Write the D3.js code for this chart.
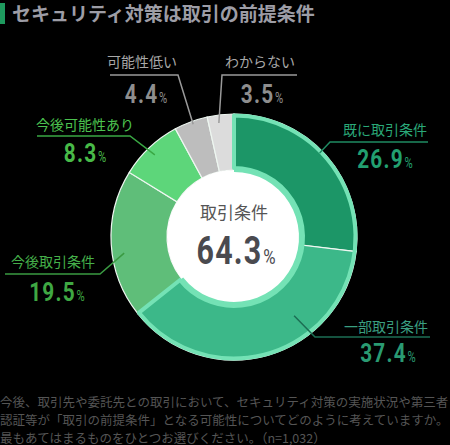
<!DOCTYPE html>
<html>
<head>
<meta charset="utf-8">
<script src="https://cdn.jsdelivr.net/npm/d3@7"></script>
<style>
  html, body { margin: 0; padding: 0; background: #000; }
  svg { display: block; }
</style>
</head>
<body>
<div id="chart"></div>
<script>
// data
const categories = ["既に取引条件", "一部取引条件", "今後取引条件", "今後可能性あり", "可能性低い", "わからない"]
const values = [26.9, 37.4, 19.5, 8.3, 4.4, 3.5]
const highlightGroup = ["既に取引条件", "一部取引条件"]
const centerTitle = "取引条件"
const centerValue = "64.3"
const title = "セキュリティ対策は取引の前提条件"
const footnote = [
  "今後、取引先や委託先との取引において、セキュリティ対策の実施状況や第三者",
  "認証等が「取引の前提条件」となる可能性についてどのように考えていますか。",
  "最もあてはまるものをひとつお選びください。（n=1,032）"
]

const colors = ["#1c9667", "#3cb889", "#5fbe79", "#5dd67a", "#bdbdbd", "#dcdcdc"]
const textColors = ["#22a070", "#2a9a72", "#3fa843", "#48ba48", "#8e8e8e", "#8e8e8e"]
const labelColors = ["#2aa878", "#3a9e80", "#45b04a", "#4cc24f", "#a8a8a8", "#a8a8a8"]
const lineColors = ["#1f8a62", "#1c6e54", "#3a9a42", "#3aa844", "#9a9a9a", "#9a9a9a"]

// label layout: where leader line leaves the ring (t along slice, r) and where text sits
const labelLayout = [
  {t: 0.47, r: 120, elbow: [330, 142], lineTo: 428, tx: 385, ty: 135, px: 385, py: 168},
  {t: 0.34, r: 99,  elbow: [315, 337], lineTo: 430, tx: 386, ty: 332, px: 388, py: 362},
  {t: 0.43, r: 111, elbow: [100, 274], lineTo: 5,   tx: 53,  ty: 267, px: 57,  py: 301},
  {t: 0.48, r: 114, elbow: [130, 136], lineTo: 37,  tx: 85,  ty: 130, px: 85,  py: 162},
  {t: 0.54, r: 120, elbow: [178, 75],  lineTo: 110, tx: 142, ty: 67,  px: 146, py: 103},
  {t: 0.40, r: 115, elbow: [222, 75],  lineTo: 297, tx: 260, ty: 67,  px: 262, py: 103}
]

var width = 450
var height = 445
var cx = 234
var cy = 237
var outerR = 123
var innerR = 67

const jp = "'Noto Sans CJK JP', 'Noto Sans', sans-serif"
const num = "Roboto, 'Liberation Sans', sans-serif"

var svg = d3.select("#chart").append("svg")
  .attr("width", width)
  .attr("height", height)
  .style("background", "#000")

// title
svg.append("rect")
  .attr("x", 0).attr("y", 3)
  .attr("width", 5).attr("height", 21)
  .attr("fill", "#1e9a5e")

svg.append("text")
  .attr("x", 12).attr("y", 21)
  .attr("dominant-baseline", "alphabetic")
  .text(title)
  .style("font-family", jp)
  .style("font-weight", "bold")
  .style("font-size", "19px")
  .style("fill", "#9d9da6")

// condensed number + small %
function numText(sel, x, y, value, big, small, fill, sx) {
  var t = sel.append("text")
    .attr("transform", `translate(${x},${y}) scale(${sx},1)`)
    .attr("text-anchor", "middle")
    .style("fill", fill)
  t.append("tspan")
    .text(value)
    .style("font-family", num)
    .style("font-weight", "bold")
    .style("font-size", big + "px")
    .style("letter-spacing", "1.5px")
  t.append("tspan")
    .text("%")
    .style("font-family", num)
    .style("font-size", small + "px")
    .attr("dx", 1)
  return t
}

const color = d3.scaleOrdinal().domain(categories).range(colors)

const rows = categories.map((c, i) => ({name: c, value: values[i], i: i}))

const pie = d3.pie()
  .sort(null)
  .value(d => d.value)

const arcs = pie(rows)

const arc = d3.arc()
  .innerRadius(innerR)
  .outerRadius(outerR)

const g = svg.append("g")
  .attr("transform", `translate(${cx},${cy})`)

g.selectAll("path.slice")
  .data(arcs)
  .enter()
  .append("path")
  .attr("class", "slice")
  .attr("d", arc)
  .attr("fill", d => color(d.data.name))
  .attr("stroke", "#eef7f1")
  .attr("stroke-width", 1.2)

// outline of the highlighted group
const hl = arcs.filter(a => highlightGroup.includes(a.data.name))
const hlAngles = {startAngle: d3.min(hl, a => a.startAngle), endAngle: d3.max(hl, a => a.endAngle)}
const groupArc = d3.arc()
  .innerRadius(innerR + 2)
  .outerRadius(outerR - 1.5)

g.append("path")
  .attr("d", groupArc(hlAngles))
  .attr("fill", "none")
  .attr("stroke", "#74e2b5")
  .attr("stroke-width", 4)
  .attr("stroke-linejoin", "round")

// white center
g.append("circle")
  .attr("r", innerR)
  .attr("fill", "#fff")

g.append("path")
  .attr("d", d3.arc().innerRadius(innerR - 2).outerRadius(innerR + 1)(hlAngles))
  .attr("fill", "#74e2b5")

g.append("text")
  .attr("y", -18)
  .attr("text-anchor", "middle")
  .text(centerTitle)
  .style("font-family", jp)
  .style("font-size", "17px")
  .style("fill", "#555")

numText(g, 2, 27, centerValue, 38, 21, "#4a4a4f", 0.8)

// labels
arcs.forEach((a, i) => {
  const L = labelLayout[i]
  const ang = a.startAngle + L.t * (a.endAngle - a.startAngle)
  const sx = cx + L.r * Math.sin(ang)
  const sy = cy - L.r * Math.cos(ang)

  svg.append("polyline")
    .attr("points", [[sx, sy], L.elbow, [L.lineTo, L.elbow[1]]].map(p => p.join(",")).join(" "))
    .attr("fill", "none")
    .attr("stroke", lineColors[i])
    .attr("stroke-width", 1.5)

  svg.append("text")
    .attr("x", L.tx).attr("y", L.ty)
    .attr("text-anchor", "middle")
    .text(a.data.name)
    .style("font-family", jp)
    .style("font-size", "14px")
    .style("fill", labelColors[i])

  numText(svg, L.px, L.py, a.data.value.toFixed(1), 26, 14, textColors[i], 0.8)
})

// footnote
svg.selectAll("text.note")
  .data(footnote)
  .enter()
  .append("text")
  .attr("class", "note")
  .attr("x", 0)
  .attr("y", (d, i) => 406.5 + i * 18)
  .text(d => d)
  .style("font-family", jp)
  .style("font-size", "12.5px")
  .style("fill", "#555")
</script>
</body>
</html>
